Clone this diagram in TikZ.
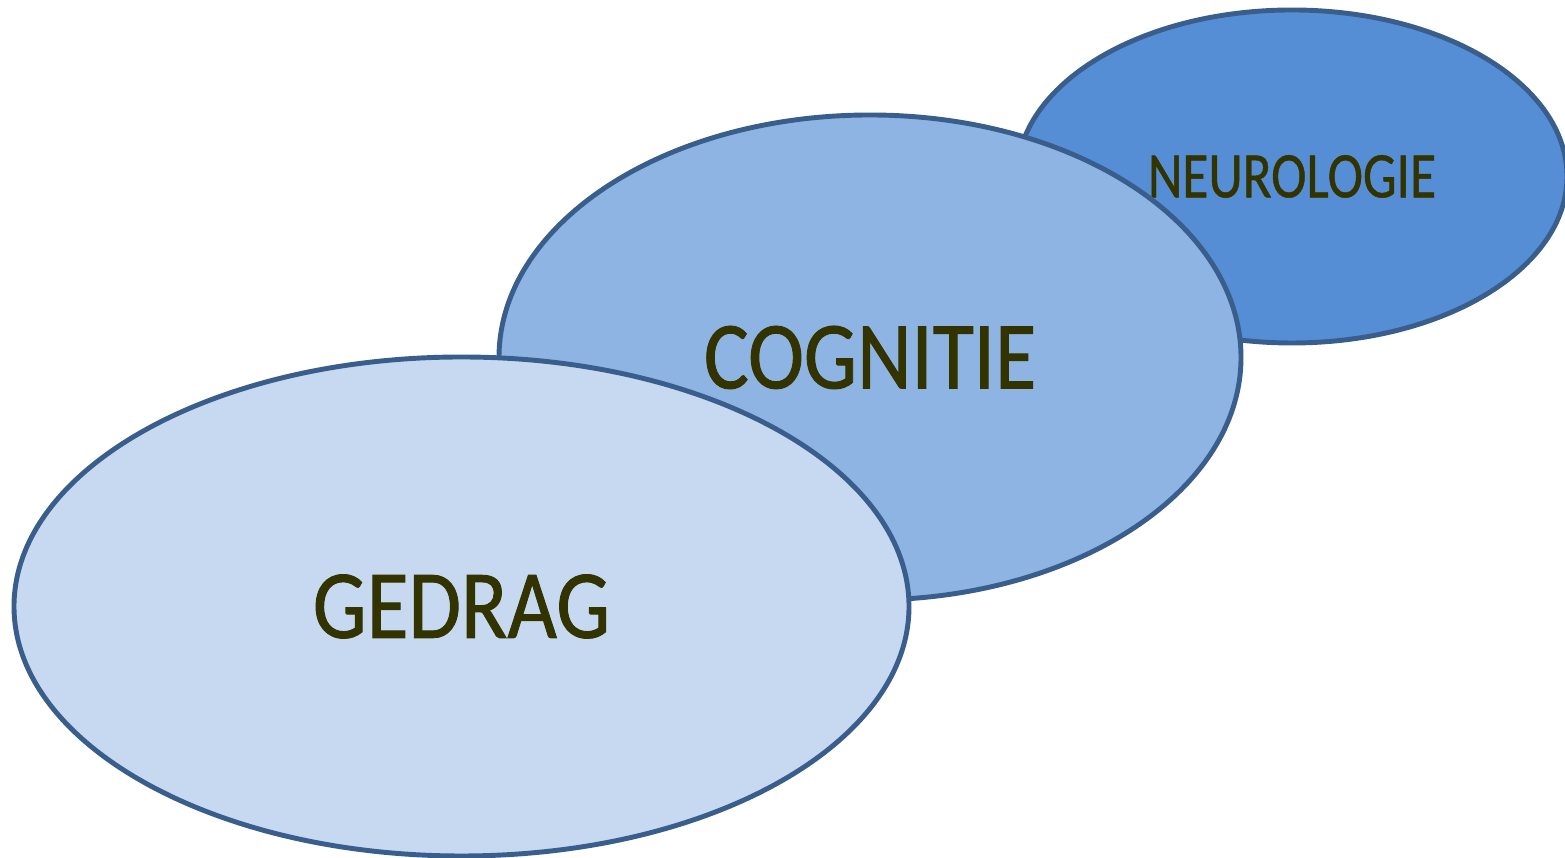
\documentclass[tikz,border=0pt]{standalone}
\usepackage{fontspec}
\newfontfamily\blobfont[FakeStretch=0.875,FakeBold=0.9]{Carlito}
\newfontfamily\smallblobfont[FakeStretch=0.82,FakeBold=0.7]{Carlito}
\usetikzlibrary{shapes.geometric}
\definecolor{rim}{HTML}{3A5E8C}
\definecolor{neurofill}{HTML}{558ED5}
\definecolor{cogfill}{HTML}{8EB4E3}
\definecolor{gedragfill}{HTML}{C6D9F1}
\definecolor{inkolive}{HTML}{333300}

\begin{document}
\begin{tikzpicture}[
    blob/.style={draw=rim, line width=1.4pt, shape=ellipse, inner sep=0pt,
      text=inkolive, font=\blobfont}]
  \useasboundingbox (0,0) rectangle (15.65,8.58);
  \node (neuro) [blob, fill=neurofill, minimum width=5.5cm, minimum height=3.33cm,
    font=\smallblobfont\fontsize{18.5pt}{20pt}\selectfont] at (12.92,6.815) {NEUROLOGIE};
  \node (cog) [blob, fill=cogfill, minimum width=7.42cm, minimum height=4.85cm,
    font=\blobfont\fontsize{27.4pt}{30pt}\selectfont] at (8.70,5.005) {COGNITIE};
  \node (gedrag) [blob, fill=gedragfill, minimum width=8.95cm, minimum height=4.99cm,
    font=\blobfont\fontsize{27.8pt}{30pt}\selectfont] at (4.615,2.515) {GEDRAG};
\end{tikzpicture}
\end{document}
